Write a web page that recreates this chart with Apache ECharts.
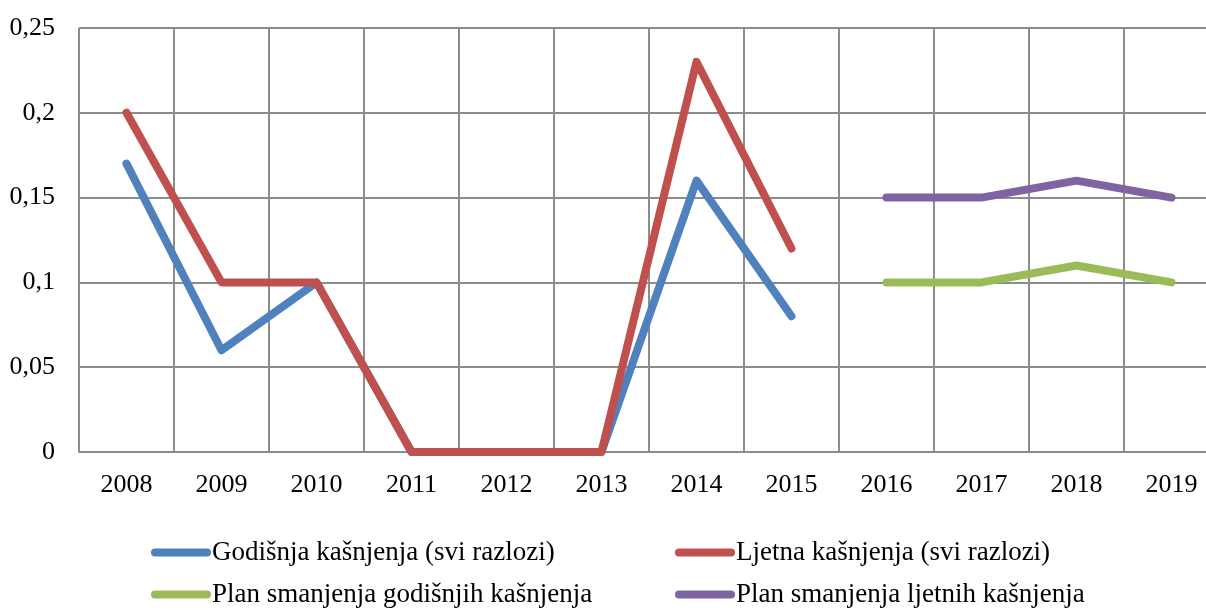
<!DOCTYPE html>
<html>
<head>
<meta charset="utf-8">
<script src="https://cdn.jsdelivr.net/npm/echarts@6/dist/echarts.min.js"></script>
<style>
  html, body { margin: 0; padding: 0; background: #fff; }
  #chart { width: 1206px; height: 610px; }
</style>
</head>
<body>
<div id="chart"></div>
<script>
var years = ['2008', '2009', '2010', '2011', '2012', '2013', '2014', '2015', '2016', '2017', '2018', '2019']
var godisnja = [0.17, 0.06, 0.10, 0, 0, 0, 0.16, 0.08, null, null, null, null]
var ljetna = [0.20, 0.10, 0.10, 0, 0, 0, 0.23, 0.12, null, null, null, null]
var planGodisnjih = [null, null, null, null, null, null, null, null, 0.10, 0.10, 0.11, 0.10]
var planLjetnih = [null, null, null, null, null, null, null, null, 0.15, 0.15, 0.16, 0.15]

var names = [
  'Godišnja kašnjenja (svi razlozi)',
  'Ljetna kašnjenja (svi razlozi)',
  'Plan smanjenja godišnjih kašnjenja',
  'Plan smanjenja ljetnih kašnjenja'
]
var colors = ['#4F81BD', '#C0504D', '#9BBB59', '#8064A2']
var font = '"Liberation Serif", "Times New Roman", serif'
var pill = 'path://M4,0 H56 A4,4 0 0 1 56,8 H4 A4,4 0 0 1 4,0 Z'

function lineSeries(i, data) {
  return {
    name: names[i],
    type: 'line',
    data: data,
    symbol: 'none',
    connectNulls: false,
    lineStyle: { color: colors[i], width: 8, cap: 'round', join: 'round' },
    itemStyle: { color: colors[i] },
    animation: false
  }
}

// one legend per entry, placed in a 2x2 block like the original
function legendItem(i, left, top) {
  return {
    left: left,
    top: top,
    padding: 0,
    itemWidth: 60,
    itemHeight: 9,
    icon: pill,
    data: [names[i]],
    textStyle: { fontFamily: font, fontSize: 27, color: '#000', padding: [0, 0, 0, -4] }
  }
}

var chart = echarts.init(document.getElementById('chart'))
chart.setOption({
  backgroundColor: '#fff',
  grid: { left: 79, top: 28, width: 1140, height: 424, outerBoundsMode: 'none' },
  xAxis: {
    type: 'category',
    data: years,
    boundaryGap: true,
    axisLine: { lineStyle: { color: '#8c8c8c', width: 2 } },
    axisTick: { show: false },
    axisLabel: { fontFamily: font, fontSize: 26, color: '#000', margin: 20 },
    splitLine: { show: true, lineStyle: { color: '#8c8c8c', width: 2 } }
  },
  yAxis: {
    type: 'value',
    min: 0,
    max: 0.25,
    interval: 0.05,
    axisLine: { show: false },
    axisTick: { show: false },
    axisLabel: {
      fontFamily: font,
      fontSize: 26,
      color: '#000',
      margin: 24,
      formatter: function (v) { return String(Math.round(v * 100) / 100).replace('.', ',') }
    },
    splitLine: { lineStyle: { color: '#8c8c8c', width: 2 } }
  },
  legend: [
    legendItem(0, 151, 539),
    legendItem(1, 675, 539),
    legendItem(2, 151, 581),
    legendItem(3, 675, 581)
  ],
  series: [
    lineSeries(0, godisnja),
    lineSeries(1, ljetna),
    lineSeries(2, planGodisnjih),
    lineSeries(3, planLjetnih)
  ]
})
</script>
</body>
</html>
